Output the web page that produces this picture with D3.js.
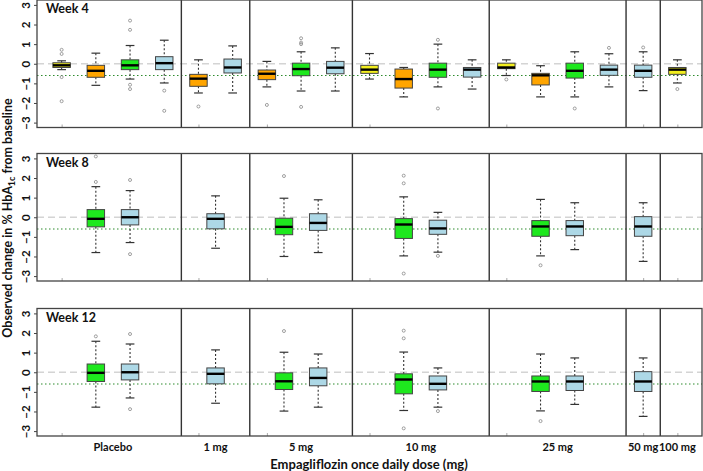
<!DOCTYPE html>
<html>
<head>
<meta charset="utf-8">
<script src="https://cdn.jsdelivr.net/npm/d3@7/dist/d3.min.js"></script>
<style>
  body { margin: 0; background: #fff; }
  text { font-family: Lato, "Open Sans", sans-serif; font-weight: bold; fill: #111; }
</style>
</head>
<body>
<div id="chart"></div>
<script>
// data
var groups = ["Placebo", "1 mg", "5 mg", "10 mg", "25 mg", "50 mg", "100 mg"];
var groupSlots = [4, 2, 3, 4, 4, 1, 1];
var weeks = ["Week 4", "Week 8", "Week 12"];
var cohorts = ["yellow", "orange", "green", "blue"];
var yTicks = [-3, -2, -1, 0, 1, 2, 3];
var refLines = [0, -0.6];

// [group, cohort, lowWhisker, q1, median, q3, highWhisker, outliers]
var week4 = [
  ["Placebo", "yellow", -0.3, -0.19, -0.08, 0.05, 0.15, [0.71, 0.5, -0.68, -1.91]],
  ["Placebo", "orange", -1.1, -0.69, -0.36, -0.08, 0.54, []],
  ["Placebo", "green", -0.78, -0.3, -0.08, 0.2, 0.93, [2.2, 1.73, -1.07, -1.29]],
  ["Placebo", "blue", -0.98, -0.3, 0.03, 0.36, 1.2, [-1.37, -2.4]],
  ["1 mg", "orange", -1.49, -1.15, -0.76, -0.54, 0.2, [-2.18]],
  ["1 mg", "blue", -1.49, -0.47, -0.19, 0.24, 0.91, []],
  ["5 mg", "orange", -1.18, -0.81, -0.51, -0.32, 0.12, [-2.1]],
  ["5 mg", "green", -1.39, -0.61, -0.27, 0.03, 0.61, [1.3, 1.08, 1.0, -2.2]],
  ["5 mg", "blue", -1.39, -0.51, -0.2, 0.12, 0.81, []],
  ["10 mg", "yellow", -0.78, -0.49, -0.3, -0.08, 0.52, []],
  ["10 mg", "orange", -1.69, -1.24, -0.78, -0.27, -0.19, []],
  ["10 mg", "green", -1.18, -0.69, -0.3, 0.03, 1.0, [1.22, -2.28]],
  ["10 mg", "blue", -1.29, -0.68, -0.3, -0.19, 0.2, []],
  ["25 mg", "yellow", -0.6, -0.25, -0.19, 0.03, 0.2, [-0.8]],
  ["25 mg", "orange", -1.69, -1.08, -0.59, -0.49, -0.1, []],
  ["25 mg", "green", -1.69, -0.73, -0.36, 0.03, 0.61, [-2.28]],
  ["25 mg", "blue", -1.18, -0.59, -0.3, -0.07, 0.51, [0.81]],
  ["50 mg", "blue", -1.37, -0.69, -0.36, -0.07, 0.61, [0.83]],
  ["100 mg", "yellow", -0.98, -0.54, -0.3, -0.19, 0.2, [-1.29]]
];

var week8 = [
  ["Placebo", "green", -1.8, -0.49, -0.08, 0.39, 1.56, [3.1, 1.8]],
  ["Placebo", "blue", -1.29, -0.39, 0.0, 0.39, 1.36, [1.9, -1.88]],
  ["1 mg", "blue", -1.58, -0.59, -0.08, 0.18, 1.09, []],
  ["5 mg", "green", -2.0, -0.89, -0.49, -0.05, 0.97, [2.1]],
  ["5 mg", "blue", -1.8, -0.67, -0.29, 0.18, 0.89, []],
  ["10 mg", "green", -1.97, -1.08, -0.37, -0.07, 1.04, [2.12, 1.73, -2.87]],
  ["10 mg", "blue", -1.78, -0.87, -0.57, -0.15, 0.25, [-1.97]],
  ["25 mg", "green", -1.97, -0.97, -0.47, -0.17, 0.91, [-2.45]],
  ["25 mg", "blue", -1.65, -0.94, -0.47, -0.17, 0.74, []],
  ["50 mg", "blue", -2.25, -0.97, -0.47, 0.03, 0.74, []]
];

var week12 = [
  ["Placebo", "green", -1.78, -0.47, -0.03, 0.42, 1.58, [1.83]],
  ["Placebo", "blue", -1.31, -0.39, 0.0, 0.42, 1.44, [1.95, -1.88]],
  ["1 mg", "blue", -1.58, -0.59, -0.08, 0.22, 1.14, []],
  ["5 mg", "green", -1.98, -0.88, -0.46, -0.03, 1.02, [2.1]],
  ["5 mg", "blue", -1.78, -0.69, -0.29, 0.22, 0.93, []],
  ["10 mg", "green", -1.95, -1.1, -0.37, -0.08, 1.03, [2.12, 1.73, -2.86]],
  ["10 mg", "blue", -1.78, -0.9, -0.59, -0.19, 0.22, [-1.98]],
  ["25 mg", "green", -1.97, -0.98, -0.47, -0.19, 0.93, [-2.49]],
  ["25 mg", "blue", -1.64, -0.93, -0.47, -0.19, 0.73, []],
  ["50 mg", "blue", -2.25, -0.98, -0.47, 0.03, 0.73, []]
];

var weekData = [week4, week8, week12];

// layout
var svgWidth = 703;
var svgHeight = 471;
var plotLeft = 37, plotRight = 702;
var panelTops = [0, 153.5, 308.5];
var panelH = 127.5;

var color = d3.scaleOrdinal()
  .domain(cohorts)
  .range(["#f2ee1e", "#ffa500", "#1ee81e", "#add8e6"]);

// slot index where each group starts
var groupStart = [];
var acc = 0;
groupSlots.forEach(function(n) { groupStart.push(acc); acc += n; });
var groupCenter = groups.map(function(g, i) { return groupStart[i] + (groupSlots[i] - 1) / 2; });

var x = d3.scaleLinear().domain([-0.72, 18.72]).range([plotLeft, plotRight]);
var slotW = x(1) - x(0);
var boxW = slotW * 0.51;
var capW = boxW * 0.5;

var svg = d3.select("#chart")
  .append("svg")
  .attr("width", svgWidth)
  .attr("height", svgHeight);

weeks.forEach(function(week, w) {
  var top = panelTops[w];
  var y = d3.scaleLinear().domain([-3.25, 3.25]).range([top + panelH, top]);
  var g = svg.append("g");

  // reference lines
  g.append("line")
    .attr("x1", plotLeft).attr("x2", plotRight)
    .attr("y1", y(refLines[0])).attr("y2", y(refLines[0]))
    .attr("stroke", "#d4d4d4").attr("stroke-width", 1.5)
    .attr("stroke-dasharray", "7,4");
  g.append("line")
    .attr("x1", plotLeft).attr("x2", plotRight)
    .attr("y1", y(refLines[1])).attr("y2", y(refLines[1]))
    .attr("stroke", "#2e8b2e").attr("stroke-width", 1.2)
    .attr("stroke-dasharray", "1.5,2.5");

  // boxes: positioned centred inside their group
  var rows = weekData[w];
  var items = rows.map(function(r) {
    var gi = groups.indexOf(r[0]);
    var same = rows.filter(function(s) { return s[0] === r[0]; });
    var idx = same.indexOf(r);
    return {
      pos: groupCenter[gi] + idx - (same.length - 1) / 2,
      cohort: r[1], lo: r[2], q1: r[3], med: r[4], q3: r[5], hi: r[6], out: r[7]
    };
  });

  var bx = g.selectAll(".box").data(items).enter().append("g").attr("class", "box");

  // whiskers
  bx.append("line")
    .attr("x1", d => x(d.pos)).attr("x2", d => x(d.pos))
    .attr("y1", d => y(d.hi)).attr("y2", d => y(d.q3))
    .attr("stroke", "#333").attr("stroke-width", 1.1).attr("stroke-dasharray", "2,2");
  bx.append("line")
    .attr("x1", d => x(d.pos)).attr("x2", d => x(d.pos))
    .attr("y1", d => y(d.q1)).attr("y2", d => y(d.lo))
    .attr("stroke", "#333").attr("stroke-width", 1.1).attr("stroke-dasharray", "2,2");
  // caps
  bx.append("line")
    .attr("x1", d => x(d.pos) - capW / 2).attr("x2", d => x(d.pos) + capW / 2)
    .attr("y1", d => y(d.hi)).attr("y2", d => y(d.hi))
    .attr("stroke", "#333").attr("stroke-width", 1.2);
  bx.append("line")
    .attr("x1", d => x(d.pos) - capW / 2).attr("x2", d => x(d.pos) + capW / 2)
    .attr("y1", d => y(d.lo)).attr("y2", d => y(d.lo))
    .attr("stroke", "#333").attr("stroke-width", 1.2);
  // box
  bx.append("rect")
    .attr("x", d => x(d.pos) - boxW / 2)
    .attr("width", boxW)
    .attr("y", d => y(d.q3))
    .attr("height", d => y(d.q1) - y(d.q3))
    .attr("fill", d => color(d.cohort))
    .attr("stroke", "#444").attr("stroke-width", 1);
  // median
  bx.append("line")
    .attr("x1", d => x(d.pos) - boxW / 2).attr("x2", d => x(d.pos) + boxW / 2)
    .attr("y1", d => y(d.med)).attr("y2", d => y(d.med))
    .attr("stroke", "#000").attr("stroke-width", 2.4);
  // outliers
  bx.selectAll("circle")
    .data(d => d.out.map(v => ({ pos: d.pos, v: v })))
    .enter().append("circle")
    .attr("cx", d => x(d.pos))
    .attr("cy", d => y(d.v))
    .attr("r", 1.5)
    .attr("fill", "none")
    .attr("stroke", "#888").attr("stroke-width", 0.8);

  // group separators
  g.selectAll(".sep").data(groupStart.slice(1)).enter().append("line")
    .attr("x1", d => x(d - 0.5)).attr("x2", d => x(d - 0.5))
    .attr("y1", top).attr("y2", top + panelH)
    .attr("stroke", "#333").attr("stroke-width", 1.4);

  // x ticks (inward, no labels)
  g.append("g")
    .attr("transform", `translate(0, ${top + panelH})`)
    .call(d3.axisBottom(x).tickValues(groupStart).tickSize(-3).tickFormat(""))
    .call(a => a.select(".domain").remove())
    .call(a => a.selectAll("line").attr("stroke", "#aaa"));

  // y axis
  var ya = g.append("g")
    .attr("transform", `translate(${plotLeft}, 0)`)
    .call(d3.axisLeft(y).tickValues(yTicks).tickSize(3).tickFormat(d3.format("d")));
  ya.select(".domain").remove();
  ya.selectAll("line").attr("stroke", "#444");
  ya.selectAll("text")
    .attr("transform", "rotate(-90)")
    .attr("x", 0).attr("dy", 0).attr("y", -7)
    .attr("text-anchor", "middle")
    .style("font-size", "11.5px");

  // frame
  g.append("rect")
    .attr("x", plotLeft).attr("y", top)
    .attr("width", plotRight - plotLeft).attr("height", panelH)
    .attr("fill", "none").attr("stroke", "#444").attr("stroke-width", 1.3);

  // week label
  g.append("text")
    .attr("x", plotLeft + 9).attr("y", top + 13)
    .style("font-size", "12.5px")
    .text(week);
});

// group labels under the bottom panel
svg.selectAll(".glab").data(groups).enter().append("text")
  .attr("x", (d, i) => x(groupCenter[i]))
  .attr("y", 451)
  .attr("text-anchor", "middle")
  .style("font-size", "11px")
  .text(d => d);

// x axis title
svg.append("text")
  .attr("x", 369).attr("y", 469)
  .attr("text-anchor", "middle")
  .style("font-size", "13px")
  .text("Empagliflozin once daily dose (mg)");

// y axis title
var yt = svg.append("text")
  .attr("transform", "translate(12, 218) rotate(-90)")
  .attr("text-anchor", "middle")
  .style("font-size", "12.5px");
yt.append("tspan").text("Observed change in % HbA");
yt.append("tspan").attr("dy", 3).style("font-size", "9px").text("1c");
yt.append("tspan").attr("dy", -3).text(" from baseline");
</script>
</body>
</html>
